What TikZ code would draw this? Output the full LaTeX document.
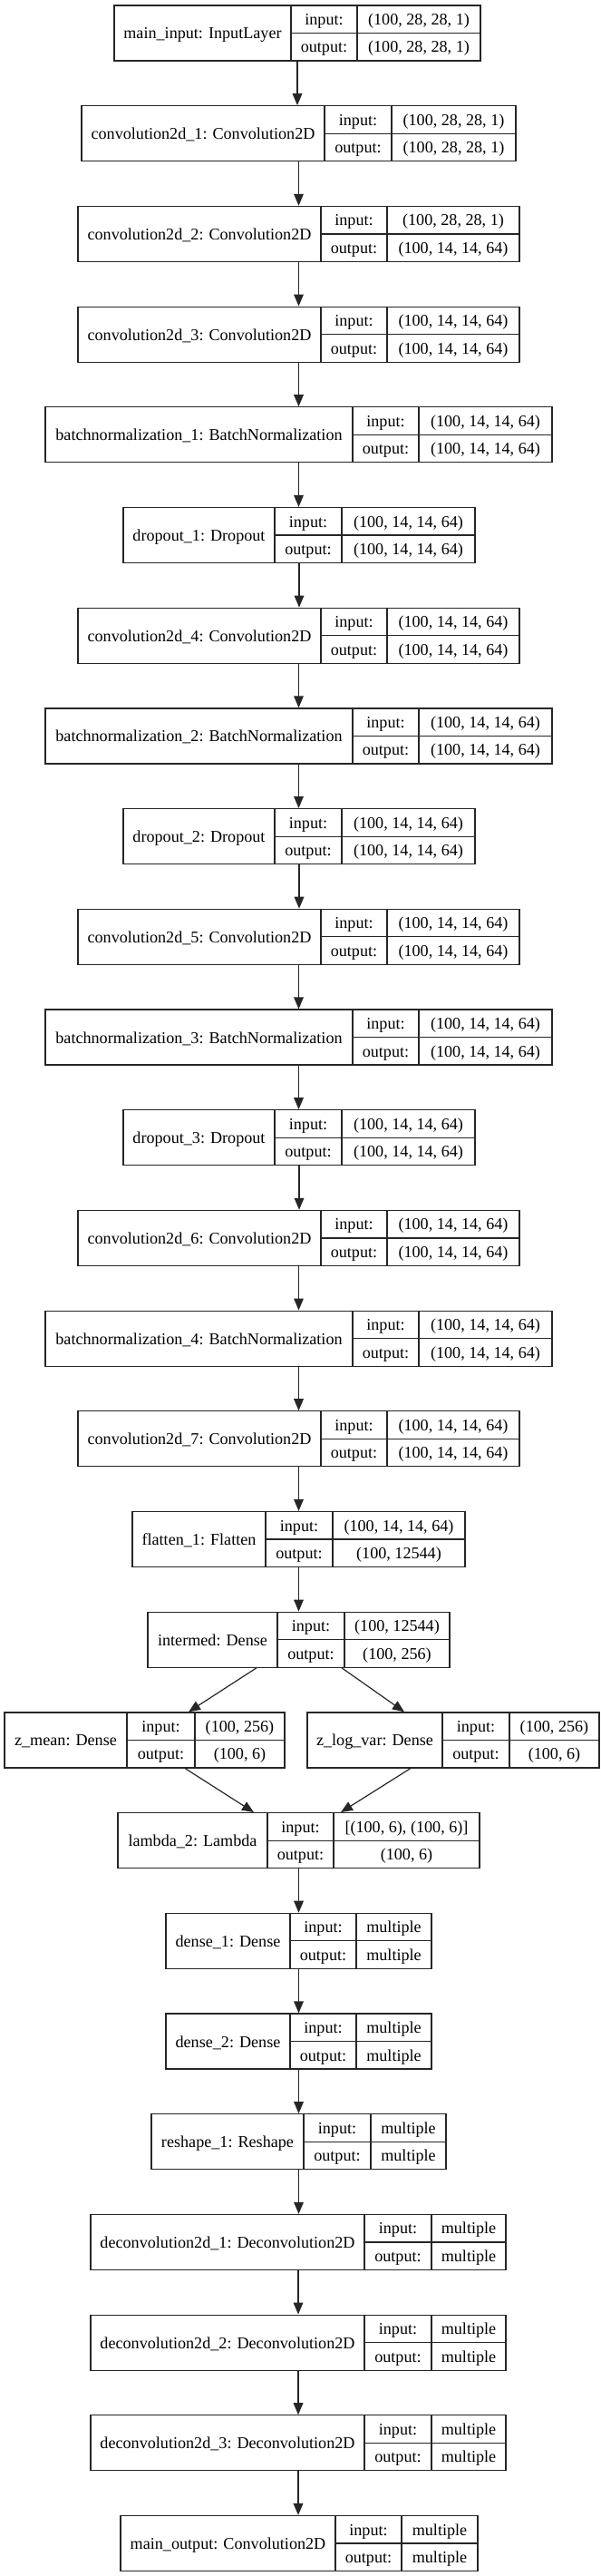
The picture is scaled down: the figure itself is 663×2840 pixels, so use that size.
\documentclass[tikz,border=0pt]{standalone}
\usepackage{fontspec}
\setmainfont{Liberation Serif}
\usetikzlibrary{arrows.meta,calc}
\colorlet{edgecol}{black!85}
\tikzset{
  box/.style={draw=edgecol, line width=0.9pt, inner sep=0pt, minimum height=45.75pt},
  cell/.style={draw=edgecol, line width=0.9pt},
  txt/.style={inner sep=0pt, anchor=base, font=\fontsize{13.6}{16}\selectfont},
  arr/.style={draw=edgecol, line width=0.9pt, -{Triangle[length=9.75pt,width=8pt]}},
}
\newcommand\lay[9]{%
  \pgfmathsetmacro\lyT{6+#2*110.7}%
  \pgfmathsetmacro\lyC{\lyT+30.5}%
  \pgfmathsetmacro\lyB{\lyT+61}%
  \pgfmathsetmacro\lyX{(#3+#6)/2}%
  \pgfmathsetmacro\lyW{(#6-#3)*0.75}%
  \node[box, minimum width=\lyW pt] (#1) at (\lyX,\lyC) {};
  \draw[cell] (#4,\lyT) -- (#4,\lyB) (#5,\lyT) -- (#5,\lyB) (#4,\lyC) -- (#6,\lyC);
  \node[txt] (#1-name) at ({(#3+#4)/2},{\lyC+6.5}) {#7};
  \node[txt] (#1-ink) at ({(#4+#5)/2},{\lyT+21.5}) {input:};
  \node[txt] (#1-outk) at ({(#4+#5)/2},{\lyC+21.5}) {output:};
  \node[txt] (#1-inv) at ({(#5+#6)/2},{\lyT+21.5}) {#8};
  \node[txt] (#1-outv) at ({(#5+#6)/2},{\lyC+21.5}) {#9};
}
\begin{document}
\begin{tikzpicture}[x=0.75pt,y=-0.75pt]
\useasboundingbox (0,0) rectangle (663,2840);
\lay{mi}{0}{126}{321}{394}{530}{main\_input: InputLayer}{(100, 28, 28, 1)}{(100, 28, 28, 1)}
\lay{c1}{1}{90}{358}{432}{569}{convolution2d\_1: Convolution2D}{(100, 28, 28, 1)}{(100, 28, 28, 1)}
\lay{c2}{2}{86}{354}{427}{573}{convolution2d\_2: Convolution2D}{(100, 28, 28, 1)}{(100, 14, 14, 64)}
\lay{c3}{3}{86}{354}{427}{573}{convolution2d\_3: Convolution2D}{(100, 14, 14, 64)}{(100, 14, 14, 64)}
\lay{b1}{4}{50}{389}{462}{609}{batchnormalization\_1: BatchNormalization}{(100, 14, 14, 64)}{(100, 14, 14, 64)}
\lay{d1}{5}{136}{303}{377}{524}{dropout\_1: Dropout}{(100, 14, 14, 64)}{(100, 14, 14, 64)}
\lay{c4}{6}{86}{354}{427}{573}{convolution2d\_4: Convolution2D}{(100, 14, 14, 64)}{(100, 14, 14, 64)}
\lay{b2}{7}{50}{389}{462}{609}{batchnormalization\_2: BatchNormalization}{(100, 14, 14, 64)}{(100, 14, 14, 64)}
\lay{d2}{8}{136}{303}{377}{524}{dropout\_2: Dropout}{(100, 14, 14, 64)}{(100, 14, 14, 64)}
\lay{c5}{9}{86}{354}{427}{573}{convolution2d\_5: Convolution2D}{(100, 14, 14, 64)}{(100, 14, 14, 64)}
\lay{b3}{10}{50}{389}{462}{609}{batchnormalization\_3: BatchNormalization}{(100, 14, 14, 64)}{(100, 14, 14, 64)}
\lay{d3}{11}{136}{303}{377}{524}{dropout\_3: Dropout}{(100, 14, 14, 64)}{(100, 14, 14, 64)}
\lay{c6}{12}{86}{354}{427}{573}{convolution2d\_6: Convolution2D}{(100, 14, 14, 64)}{(100, 14, 14, 64)}
\lay{b4}{13}{50}{389}{462}{609}{batchnormalization\_4: BatchNormalization}{(100, 14, 14, 64)}{(100, 14, 14, 64)}
\lay{c7}{14}{86}{354}{427}{573}{convolution2d\_7: Convolution2D}{(100, 14, 14, 64)}{(100, 14, 14, 64)}
\lay{fl}{15}{146}{293}{367}{513}{flatten\_1: Flatten}{(100, 14, 14, 64)}{(100, 12544)}
\lay{im}{16}{163}{306}{380}{496}{intermed: Dense}{(100, 12544)}{(100, 256)}
\lay{zm}{17}{5}{140}{215}{314}{z\_mean: Dense}{(100, 256)}{(100, 6)}
\lay{zv}{17}{339}{488}{562}{661}{z\_log\_var: Dense}{(100, 256)}{(100, 6)}
\lay{la}{18}{130}{295}{368}{529}{lambda\_2: Lambda}{[(100, 6), (100, 6)]}{(100, 6)}
\lay{de1}{19}{183}{320}{393}{476}{dense\_1: Dense}{multiple}{multiple}
\lay{de2}{20}{183}{320}{393}{476}{dense\_2: Dense}{multiple}{multiple}
\lay{rs}{21}{167}{335}{409}{492}{reshape\_1: Reshape}{multiple}{multiple}
\lay{dc1}{22}{100}{402}{476}{558}{deconvolution2d\_1: Deconvolution2D}{multiple}{multiple}
\lay{dc2}{23}{100}{402}{476}{558}{deconvolution2d\_2: Deconvolution2D}{multiple}{multiple}
\lay{dc3}{24}{100}{402}{476}{558}{deconvolution2d\_3: Deconvolution2D}{multiple}{multiple}
\lay{mo}{25}{133}{370}{443}{527}{main\_output: Convolution2D}{multiple}{multiple}
\foreach \a/\b in {mi/c1,c1/c2,c2/c3,c3/b1,b1/d1,d1/c4,c4/b2,b2/d2,d2/c5,c5/b3,b3/d3,d3/c6,c6/b4,b4/c7,c7/fl,fl/im,la/de1,de1/de2,de2/rs,rs/dc1,dc1/dc2,dc2/dc3,dc3/mo}
  \draw[arr] (\a.south) -- (\a.south |- \b.north);
\draw[arr] ($(im.south)+(-46.5,0)$) -- ($(zm.north)+(48.5,0)$);
\draw[arr] ($(im.south)+(47.5,0)$) -- ($(zv.north)+(-54,0)$);
\draw[arr] ($(zm.south)+(44.5,0)$) -- ($(la.north)+(-49.5,0)$);
\draw[arr] ($(zv.south)+(-47,0)$) -- ($(la.north)+(46.5,0)$);
\end{tikzpicture}
\end{document}
